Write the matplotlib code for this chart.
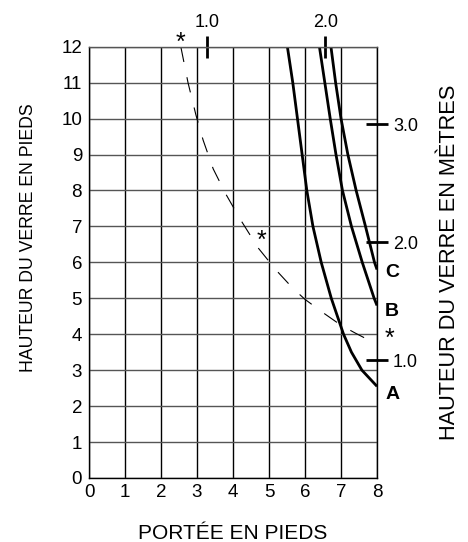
import numpy as np
import matplotlib
matplotlib.use('Agg')
import matplotlib.pyplot as plt

plt.rcParams['font.family'] = ['Liberation Sans', 'DejaVu Sans']

# courbes A, B, C (portée en pieds, hauteur en pieds)
a_x = [5.51, 5.66, 5.79, 5.92, 6.05, 6.22, 6.45, 6.73, 7.07, 7.29, 7.58, 8.0]
a_y = [12, 11, 10, 9, 8, 7, 6, 5, 4, 3.5, 3, 2.55]
b_x = [6.40, 6.55, 6.70, 6.86, 7.04, 7.29, 7.59, 7.92, 8.0]
b_y = [12, 11, 10, 9, 8, 7, 6, 5, 4.8]
c_x = [6.72, 6.85, 7.00, 7.19, 7.42, 7.68, 7.93, 8.0]
c_y = [12, 11, 10, 9, 8, 7, 6, 5.8]

# courbe en tirets
d_x = [2.55, 2.75, 2.97, 3.17, 3.45, 3.80, 4.20, 4.70, 5.20, 5.67, 6.00, 6.50, 7.00, 7.40, 8.00]
d_y = [12.0, 11.0, 10.1, 9.4, 8.6, 7.9, 7.2, 6.4, 5.78, 5.27, 4.97, 4.6, 4.25, 4.03, 3.72]

# astérisques
star_x = [2.53, 4.78, 8.36]
star_y = [12.12, 6.60, 3.87]

# étiquettes des courbes
curve_names = ['A', 'B', 'C']
name_x = [8.42, 8.42, 8.42]
name_y = [2.33, 4.62, 5.72]

x_ticks = list(range(0, 9))
y_ticks = list(range(0, 13))
m_ticks_top = [1.0, 2.0]
m_ticks_right = [1.0, 2.0, 3.0]

FT = 0.3048

fig = plt.figure(figsize=(4.68, 5.42), dpi=100)
ax = fig.add_axes([0.1902, 0.1181, 0.6154, 0.7957])

ax.set_xlim(0, 8)
ax.set_ylim(0, 12)
ax.set_xticks(x_ticks)
ax.set_yticks(y_ticks)
ax.tick_params(axis='both', length=0, labelsize=13.5)
ax.tick_params(axis='x', pad=4)
ax.tick_params(axis='y', pad=5)

ax.grid(True, axis='x', color='black', linewidth=1.0)
ax.grid(True, axis='y', color='#555555', linewidth=1.0)
ax.set_axisbelow(True)
for side in ['left', 'right', 'bottom']:
    ax.spines[side].set_color('black')
    ax.spines[side].set_linewidth(1.0)
ax.spines['top'].set_color('#555555')
ax.spines['top'].set_linewidth(1.0)

# courbes
for xs, ys in [(a_x, a_y), (b_x, b_y), (c_x, c_y)]:
    ax.plot(xs, ys, color='black', linewidth=2.0, solid_capstyle='butt',
            solid_joinstyle='round')
ax.plot(d_x, d_y, color='black', linewidth=0.8, dashes=(14, 14))

for sx, sy in zip(star_x, star_y):
    ax.text(sx, sy, '*', ha='center', va='center', fontsize=18, clip_on=False)

for name, nx, ny in zip(curve_names, name_x, name_y):
    ax.text(nx, ny, name, ha='center', va='center', fontsize=14,
            fontweight='bold', clip_on=False)

ax.set_xlabel('PORTÉE EN PIEDS', fontsize=15, labelpad=17)
ax.set_ylabel('HAUTEUR DU VERRE EN PIEDS', fontsize=12.7)
ax.yaxis.set_label_coords(-0.181, 0.558)

# axes secondaires en mètres
sec_x = ax.secondary_xaxis('top', functions=(lambda f: f * FT, lambda m: m / FT))
sec_x.set_xticks(m_ticks_top)
sec_x.set_xticklabels([f'{v:.1f}' for v in m_ticks_top])
sec_x.tick_params(direction='inout', length=16, width=2, labelsize=13, pad=3)
sec_x.spines['top'].set_visible(False)

sec_y = ax.secondary_yaxis('right', functions=(lambda f: f * FT, lambda m: m / FT))
sec_y.set_yticks(m_ticks_right)
sec_y.set_yticklabels([f'{v:.1f}' for v in m_ticks_right])
sec_y.tick_params(direction='inout', length=16, width=2, labelsize=13, pad=3.5)
sec_y.spines['right'].set_visible(False)
sec_y.set_ylabel('HAUTEUR DU VERRE EN MÈTRES', fontsize=15.7, labelpad=15)

fig.savefig('out.png', dpi=100)
